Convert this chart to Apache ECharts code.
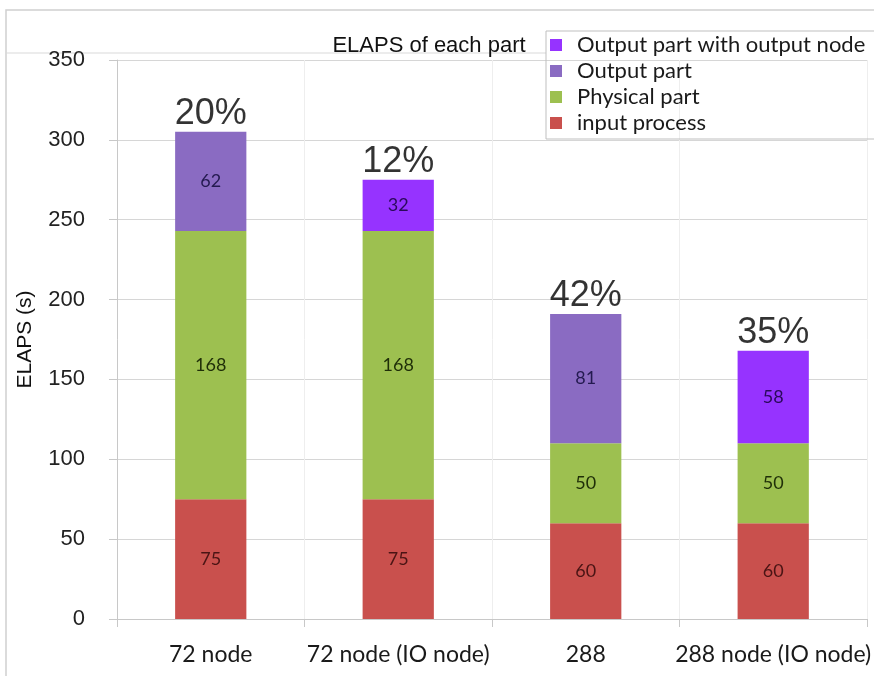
<!DOCTYPE html>
<html>
<head>
<meta charset="utf-8">
<script src="https://cdn.jsdelivr.net/npm/echarts@6/dist/echarts.min.js"></script>
<style>
  html, body { margin: 0; padding: 0; background: #ffffff; }
  #chart { width: 874px; height: 676px; }
</style>
</head>
<body>
<div id="chart"></div>
<script>
// Run configurations on the x axis
const categories = ['72 node', '72 node (IO node)', '288', '288 node (IO node)'];

// Elapsed time per phase, seconds (null where a phase is not present)
const inputProcess = [75, 75, 60, 60];
const physicalPart = [168, 168, 50, 50];
const outputPart = [62, null, 81, null];
const outputWithNode = [null, 32, null, 58];

// Share of the output phase in the total, shown above each bar
const outputShare = ['20%', '12%', '42%', '35%'];

const yTicks = { min: 0, max: 350, interval: 50 };

const totals = categories.map((_, i) =>
  [inputProcess, physicalPart, outputPart, outputWithNode]
    .reduce((s, arr) => s + (arr[i] || 0), 0));

const chart = echarts.init(document.getElementById('chart'));

const segLabel = (color) => ({
  show: true,
  position: 'inside',
  fontFamily: 'Lato',
  fontSize: 18,
  color: color
});

chart.setOption({
  animation: false,
  backgroundColor: '#ffffff',
  title: {
    text: 'ELAPS of each part',
    left: 424,
    top: 30,
    textAlign: 'center',
    textStyle: { fontFamily: 'Liberation Sans', fontSize: 22, fontWeight: 'normal', color: '#111' }
  },
  legend: {
    data: ['Output part with output node', 'Output part', 'Physical part', 'input process'],
    orient: 'vertical',
    left: 546,
    top: 31,
    itemGap: 4,
    itemWidth: 12,
    itemHeight: 12,
    icon: 'rect',
    padding: [3, 20, 5, 4],
    borderColor: '#bfbfbf',
    borderWidth: 1,
    textStyle: { fontFamily: 'Lato', fontSize: 22, lineHeight: 22, color: '#1a1a1a', padding: [0, 0, 0, 10] }
  },
  grid: { left: 117, right: 5, top: 60, bottom: 57 },
  xAxis: {
    type: 'category',
    data: categories,
    axisLine: { lineStyle: { color: '#c8c8c8' } },
    axisTick: { show: true, length: 8, lineStyle: { color: '#c8c8c8' } },
    splitLine: { show: true, lineStyle: { color: '#eeeeee' } },
    axisLabel: { fontFamily: 'Lato', fontSize: 23, color: '#1a1a1a', margin: 24, interval: 0 }
  },
  yAxis: {
    type: 'value',
    min: yTicks.min,
    max: yTicks.max,
    interval: yTicks.interval,
    name: 'ELAPS (s)',
    nameLocation: 'middle',
    nameGap: 81,
    nameTextStyle: { fontFamily: 'Liberation Sans', fontSize: 21, color: '#111' },
    axisLine: { show: true, lineStyle: { color: '#c8c8c8' } },
    axisTick: { show: true, length: 8, lineStyle: { color: '#c8c8c8' } },
    splitLine: { lineStyle: { color: '#d6d6d6' } },
    axisLabel: { fontFamily: 'Liberation Sans', fontSize: 22, color: '#222', margin: 32 }
  },
  series: [
    {
      name: 'input process', type: 'bar', stack: 'elaps', barWidth: '38%',
      data: inputProcess,
      itemStyle: { color: '#c9504d' },
      label: segLabel('#4a1414')
    },
    {
      name: 'Physical part', type: 'bar', stack: 'elaps',
      data: physicalPart,
      itemStyle: { color: '#9dc050' },
      label: segLabel('#1f2e08')
    },
    {
      name: 'Output part', type: 'bar', stack: 'elaps',
      data: outputPart,
      itemStyle: { color: '#8a6bc2' },
      label: segLabel('#241a50')
    },
    {
      name: 'Output part with output node', type: 'bar', stack: 'elaps',
      data: outputWithNode,
      itemStyle: { color: '#9633ff' },
      label: segLabel('#2a0a5a')
    },
    {
      name: 'share', type: 'scatter',
      data: totals,
      symbolSize: 0,
      silent: true,
      label: {
        show: true,
        position: 'top',
        distance: 0,
        fontFamily: 'Liberation Sans',
        fontSize: 36,
        color: '#000',
        formatter: (p) => outputShare[p.dataIndex]
      }
    }
  ],
  graphic: [
    {
      type: 'rect',
      shape: { x: 6, y: 10, width: 880, height: 700 },
      style: { fill: 'none', stroke: '#d0d0d0', lineWidth: 1.5 },
      silent: true
    },
    {
      type: 'line',
      shape: { x1: 6, y1: 53, x2: 546, y2: 53 },
      style: { stroke: '#d9d9d9', lineWidth: 1 },
      silent: true
    }
  ]
});
</script>
</body>
</html>
